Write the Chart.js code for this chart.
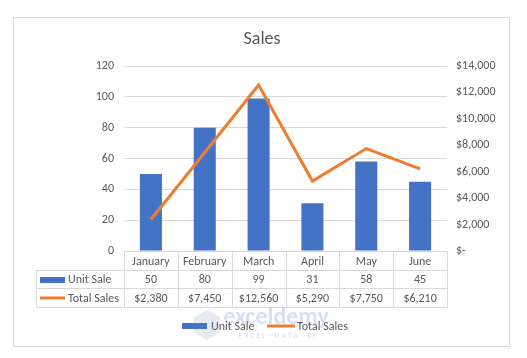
<!DOCTYPE html>
<html><head><meta charset="utf-8">
<script src="https://cdn.jsdelivr.net/npm/chart.js"></script>
<style>html,body{margin:0;padding:0;background:#fff}#wrap{width:527px;height:358px;position:relative}</style>
</head><body><div id="wrap"><canvas id="c" width="527" height="358"></canvas></div>
<script>
const categories = ['January', 'February', 'March', 'April', 'May', 'June'];
const unitSale = [50, 80, 99, 31, 58, 45];
const totalSales = [2380, 7450, 12560, 5290, 7750, 6210];
const leftTicks = [0, 20, 40, 60, 80, 100, 120];
const rightTicks = [0, 2000, 4000, 6000, 8000, 10000, 12000, 14000];
const seriesNames = ['Unit Sale', 'Total Sales'];
const chartTitle = 'Sales';

const FONT = 'Carlito, Lato, "Liberation Sans", sans-serif';
const BLUE = '#4472C4', ORANGE = '#ED7D31', GRID = '#d9d9d9', TXT = '#595959';

function money(v) { return v === 0 ? '$-' : '$' + v.toLocaleString('en-US'); }

const decor = {
  id: 'decor',
  beforeDraw(chart) {
    const ctx = chart.ctx;
    ctx.save();
    ctx.fillStyle = '#fff';
    ctx.fillRect(0, 0, chart.width, chart.height);
    ctx.strokeStyle = GRID; ctx.lineWidth = 1;
    ctx.strokeRect(13.5, 17.5, 496, 329);
    ctx.fillStyle = TXT;
    ctx.font = '18px ' + FONT;
    ctx.textAlign = 'center'; ctx.textBaseline = 'middle';
    ctx.fillText(chartTitle, 262, 39);
    ctx.restore();
  },
  afterDraw(chart) {
    const ctx = chart.ctx, a = chart.chartArea, xs = chart.scales.x;
    const n = categories.length;
    const colW = (a.right - a.left) / n;
    const r0 = Math.round(a.bottom) + 0.5, r1 = 270.5, r2 = 288.5, r3 = 307.5;
    const tl = 36.5;
    ctx.save();
    ctx.strokeStyle = GRID; ctx.lineWidth = 1;
    ctx.beginPath();
    ctx.moveTo(a.left, r0); ctx.lineTo(a.right, r0);
    [r1, r2, r3].forEach(y => { ctx.moveTo(tl, y); ctx.lineTo(a.right, y); });
    ctx.moveTo(tl, r1); ctx.lineTo(tl, r3);
    for (let i = 0; i <= n; i++) {
      const x = Math.round(a.left + i * colW) + 0.5;
      ctx.moveTo(x, r0); ctx.lineTo(x, r3);
    }
    ctx.stroke();
    ctx.font = '12px ' + FONT;
    ctx.fillStyle = TXT;
    ctx.textAlign = 'center'; ctx.textBaseline = 'middle';
    categories.forEach((c, i) => {
      const cx = xs.getPixelForValue(i);
      ctx.fillText(c, cx, (r0 + r1) / 2 + 0.5);
      ctx.fillText(String(unitSale[i]), cx, (r1 + r2) / 2 + 0.5);
      ctx.fillText(money(totalSales[i]), cx, (r2 + r3) / 2 + 0.5);
    });
    // row headers
    ctx.fillStyle = BLUE;
    ctx.fillRect(40, 277, 25, 6);
    ctx.strokeStyle = ORANGE; ctx.lineWidth = 3;
    ctx.beginPath(); ctx.moveTo(40, 298); ctx.lineTo(65, 298); ctx.stroke();
    ctx.fillStyle = TXT; ctx.textAlign = 'left';
    ctx.fillText(seriesNames[0], 68, (r1 + r2) / 2 + 0.5);
    ctx.fillText(seriesNames[1], 68, (r2 + r3) / 2 + 0.5);

    // watermark
    ctx.fillStyle = 'rgba(180,195,225,0.35)';
    ctx.beginPath();
    const hx = 207, hy = 325, hr = 15;
    for (let k = 0; k < 6; k++) {
      const ang = Math.PI / 6 + k * Math.PI / 3;
      const px = hx + hr * Math.cos(ang), py = hy + hr * Math.sin(ang);
      k ? ctx.lineTo(px, py) : ctx.moveTo(px, py);
    }
    ctx.closePath(); ctx.fill();
    ctx.textAlign = 'center';
    ctx.fillStyle = 'rgba(120,150,220,0.3)';
    ctx.font = 'bold 24px ' + FONT;
    ctx.fillText('exceldemy', 276, 318);
    ctx.fillStyle = 'rgba(160,160,170,0.4)';
    ctx.font = '8px ' + FONT;
    ctx.fillText('E X C E L  ·  D A T A  ·  B I', 277, 336);

    // legend
    ctx.fillStyle = BLUE;
    ctx.fillRect(182, 323, 25, 6);
    ctx.strokeStyle = ORANGE; ctx.lineWidth = 3;
    ctx.beginPath(); ctx.moveTo(267, 326); ctx.lineTo(295, 326); ctx.stroke();
    ctx.fillStyle = TXT; ctx.textAlign = 'left'; ctx.font = '12px ' + FONT;
    ctx.fillText(seriesNames[0], 211, 326.5);
    ctx.fillText(seriesNames[1], 297, 326.5);
    ctx.restore();
  }
};

new Chart(document.getElementById('c'), {
  data: {
    labels: categories,
    datasets: [
      { type: 'line', label: seriesNames[1], data: totalSales, yAxisID: 'y1', order: 0,
        borderColor: ORANGE, borderWidth: 3, pointRadius: 0, tension: 0, fill: false },
      { type: 'bar', label: seriesNames[0], data: unitSale, yAxisID: 'y', order: 1,
        backgroundColor: BLUE, barPercentage: 0.41, categoryPercentage: 1 }
    ]
  },
  options: {
    responsive: false, devicePixelRatio: 1, animation: false,
    layout: { padding: { top: 66, bottom: 107, left: 0, right: 0 } },
    plugins: { legend: { display: false }, tooltip: { enabled: false }, title: { display: false } },
    scales: {
      x: { display: false, offset: true },
      y: {
        position: 'left', min: 0, max: 120,
        afterFit: s => { s.width = 124; },
        afterBuildTicks: s => { s.ticks = leftTicks.map(v => ({ value: v })); },
        grid: { color: GRID, drawTicks: false },
        border: { display: false },
        ticks: { color: TXT, font: { family: FONT, size: 12 }, padding: 10 }
      },
      y1: {
        position: 'right', min: 0, max: 14000,
        afterFit: s => { s.width = 80; },
        afterBuildTicks: s => { s.ticks = rightTicks.map(v => ({ value: v })); },
        grid: { display: false, drawTicks: false },
        border: { display: false },
        ticks: { color: TXT, font: { family: FONT, size: 12 }, padding: 9, callback: v => money(v) }
      }
    }
  },
  plugins: [decor]
});
</script></body></html>
